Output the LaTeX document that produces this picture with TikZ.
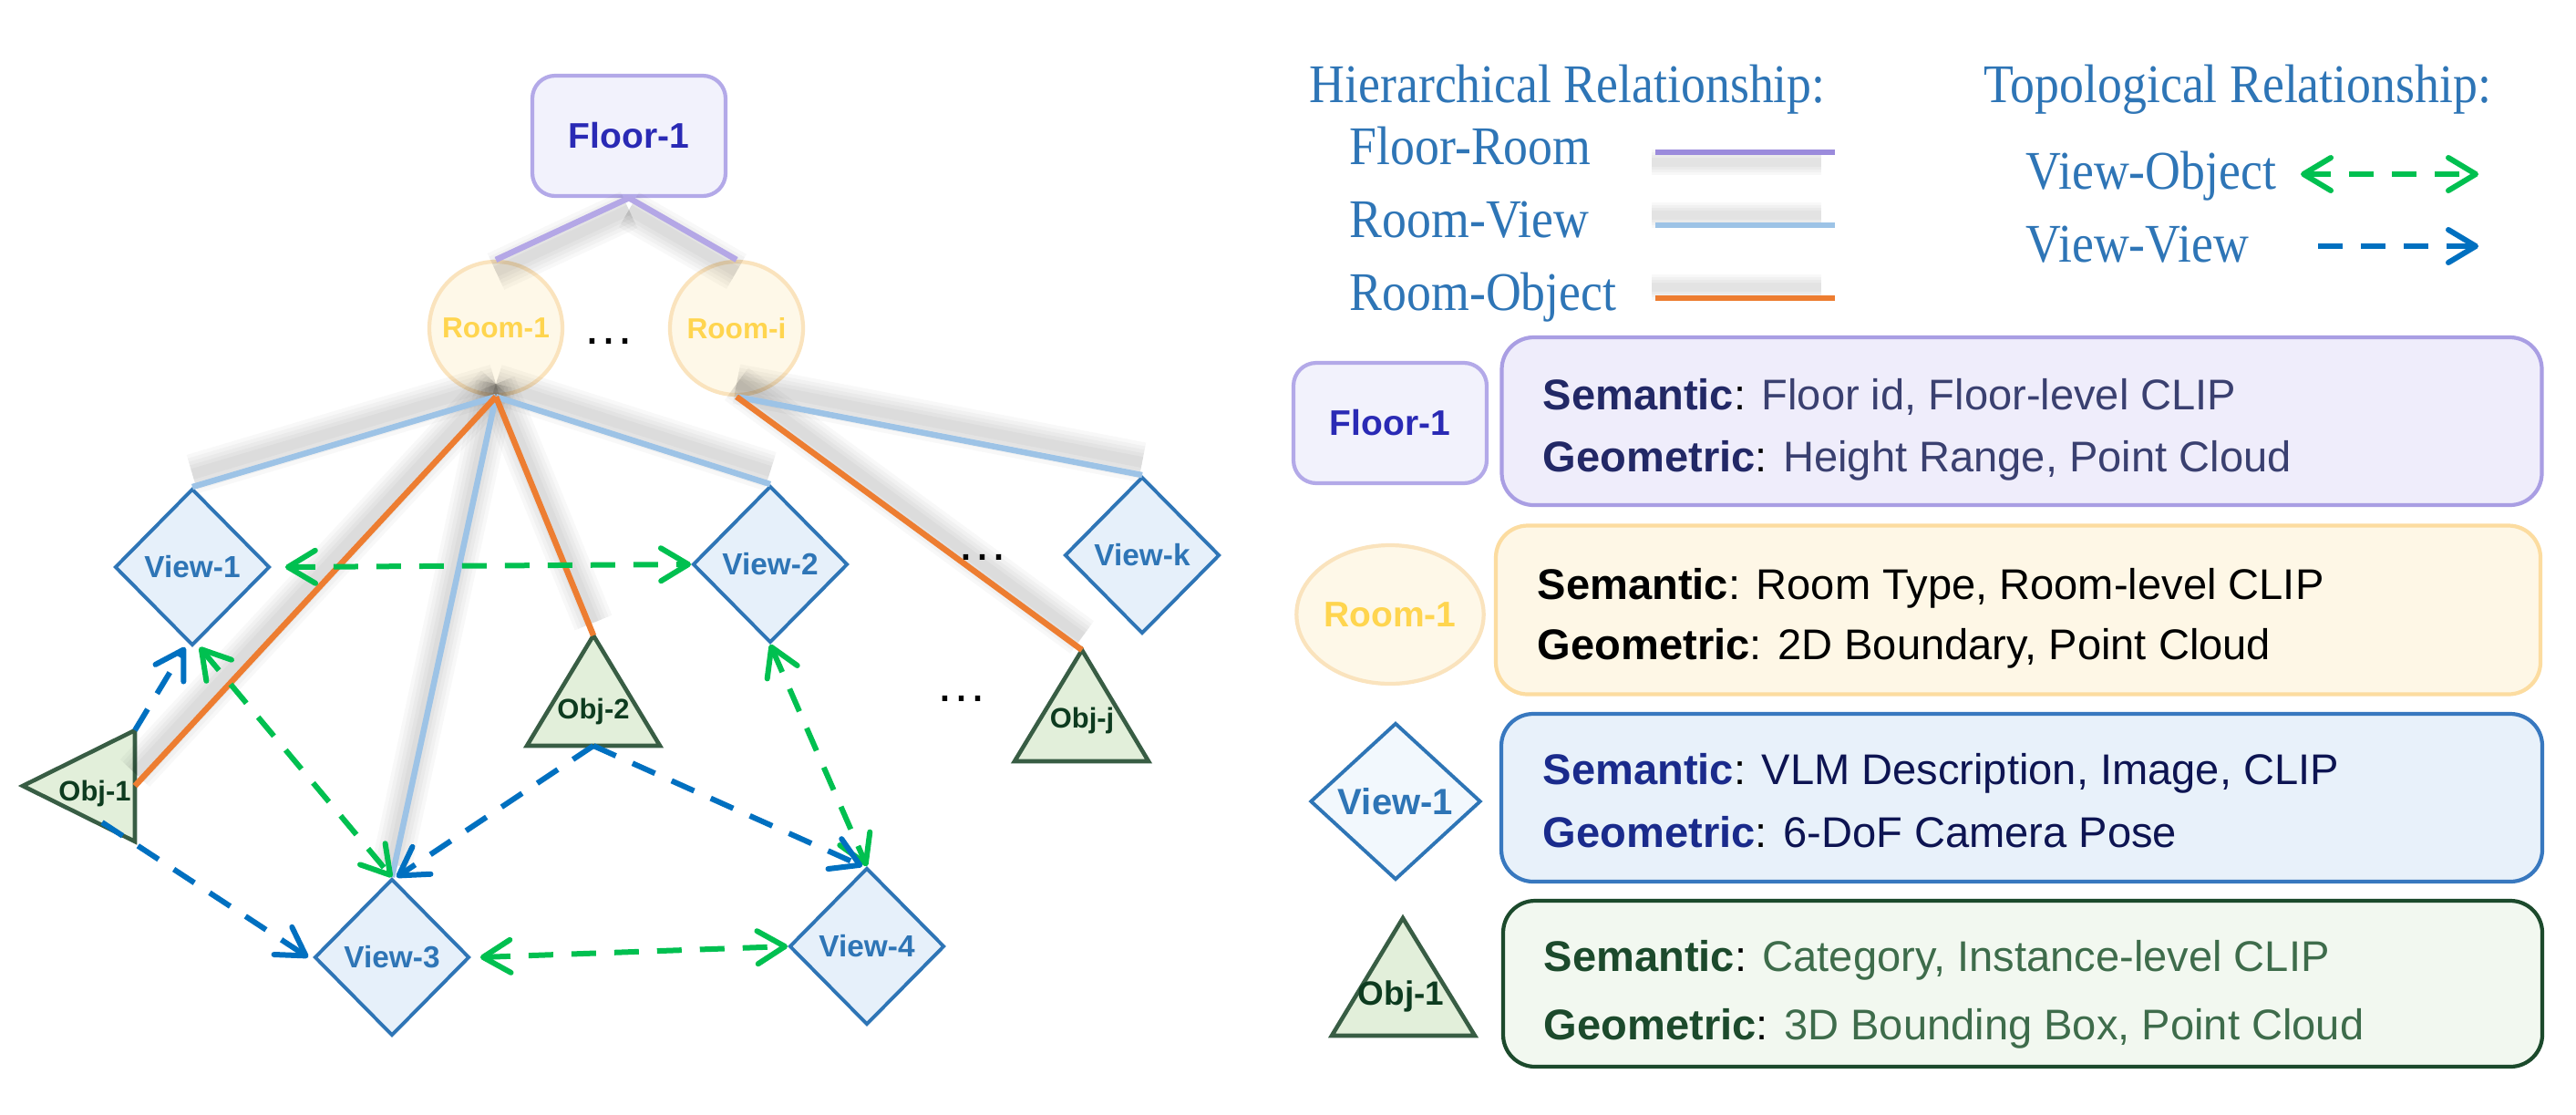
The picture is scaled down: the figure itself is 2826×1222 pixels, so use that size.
\documentclass[tikz,border=0pt]{standalone}
\usepackage{fontspec}
\setmainfont{Liberation Sans}
\newfontfamily\legserif[FakeStretch=0.9]{Liberation Serif}
\usetikzlibrary{arrows.meta,shapes.geometric}
\definecolor{floorbd}{HTML}{B3A9E8}
\definecolor{floorfill}{HTML}{F2F2FC}
\definecolor{floortxt}{HTML}{2A2AB5}
\definecolor{roombd}{HTML}{FAE3BD}
\definecolor{roomfill}{HTML}{FEF8E8}
\definecolor{roomtxt}{HTML}{FFD54F}
\definecolor{viewbd}{HTML}{2E75B6}
\definecolor{viewfill}{HTML}{E6F0FA}
\definecolor{viewfillL}{HTML}{F2F8FD}
\definecolor{objbd}{HTML}{385D44}
\definecolor{objfill}{HTML}{E2EFDA}
\definecolor{objtxt}{HTML}{0D3B1F}
\definecolor{lav}{HTML}{B4A7E6}
\definecolor{lavleg}{HTML}{9B8BDC}
\definecolor{lblue}{HTML}{9DC3E6}
\definecolor{orng}{HTML}{ED7D31}
\definecolor{vgreen}{HTML}{00C050}
\definecolor{vblue}{HTML}{0070C0}
\definecolor{legtxt}{HTML}{2E75B6}
\definecolor{fibd}{HTML}{A99EE3}
\definecolor{fifill}{HTML}{EFEDFB}
\definecolor{fibold}{HTML}{222866}
\definecolor{fireg}{HTML}{3A4070}
\definecolor{ribd}{HTML}{FCDCA0}
\definecolor{rifill}{HTML}{FEF7E6}
\definecolor{vibd}{HTML}{3878BF}
\definecolor{vifill}{HTML}{E8F1FA}
\definecolor{vibold}{HTML}{1A2B8C}
\definecolor{vireg}{HTML}{0D1452}
\definecolor{oibd}{HTML}{1C4A2C}
\definecolor{oifill}{HTML}{F2F8F0}
\definecolor{oibold}{HTML}{1C4A2C}
\definecolor{oireg}{HTML}{3E6C4B}
\tikzset{
  bb/.tip={Straight Barb[length=3mm,width=3.6mm,round]},
  floorbox/.style={draw=floorbd, fill=floorfill, line width=1.2pt, rounded corners=2.5mm,
    minimum width=21.2mm, minimum height=13.2mm, inner sep=0pt,
    font=\bfseries\fontsize{11.1}{13}\selectfont, text=floortxt},
  roomcirc/.style={circle, draw=roombd, fill=roomfill, line width=1.2pt, minimum size=14.6mm,
    inner sep=0pt, font=\bfseries\fontsize{9}{10}\selectfont, text=roomtxt},
  viewdia/.style={diamond, draw=viewbd, fill=viewfill, line width=1.1pt, minimum width=17mm,
    minimum height=17.2mm, inner sep=0pt, font=\bfseries\fontsize{9.5}{11}\selectfont, text=viewbd},
  objtri/.style={draw=objbd, fill=objfill, line width=1.3pt, line join=miter},
  objtext/.style={inner sep=0pt, font=\bfseries\fontsize{8.8}{10}\selectfont, text=objtxt},
  dotsnode/.style={inner sep=0pt, anchor=base, font=\fontsize{16.2}{18}\selectfont},
  hier/.style={line width=0.65mm},
  shd/.style={draw=black, opacity=0.028, line cap=butt},
  gdash/.style={draw=vgreen, line width=0.6mm, dash pattern=on 2.7mm off 2mm},
  bdash/.style={draw=vblue, line width=0.6mm, dash pattern=on 2.7mm off 2mm},
  legtext/.style={inner sep=0pt, anchor=base west, text=legtxt, font=\legserif\fontsize{17}{20}\selectfont},
  legline/.style={line width=0.65mm},
  infobox/.style={rounded corners=3.5mm, line width=1.2pt, inner sep=0pt},
  infotxt/.style={inner sep=0pt, anchor=base west, font=\fontsize{13.4}{16}\selectfont}
}
\begin{document}
\begin{tikzpicture}[x=0.1mm,y=-0.1mm]
\fill[white] (0,0) rectangle (2826,1222);
\useasboundingbox (0,0) rectangle (2826,1222);

% ---------------- graph nodes ----------------
\node[floorbox] (floor) at (690,149) {Floor-1};
\node[roomcirc] (room1) at (544,360) {Room-1};
\node[roomcirc] (roomi) at (808,360) {Room-i};
\node[dotsnode] (dots1) at (668,377) {…};
\node[dotsnode] (dots2) at (1078,614) {…};
\node[dotsnode] (dots3) at (1055,769) {…};

\node[viewdia] (view1) at (211,622) {View-1};
\node[viewdia] (view2) at (845,619) {View-2};
\node[viewdia] (viewk) at (1253,609) {View-k};
\node[viewdia] (view3) at (430,1050) {View-3};
\node[viewdia] (view4) at (951,1038) {View-4};

\draw[objtri] (25,862) -- (148,801) -- (148,923) -- cycle;
\node[objtext] (obj1) at (104,870) {Obj-1};
\draw[objtri] (651,697) -- (578,818) -- (724,818) -- cycle;
\node[objtext] (obj2) at (651,780) {Obj-2};
\draw[objtri] (1187,713) -- (1113,835) -- (1260,835) -- cycle;
\node[objtext] (objj) at (1187,790) {Obj-j};

\coordinate (o1top) at (148,801);
\coordinate (o1right) at (148,862);
\coordinate (o1low) at (112,902);
\coordinate (o2top) at (651,697);
\coordinate (o2base) at (651,818);
\coordinate (ojtop) at (1187,713);

% ---------------- soft shadows ----------------
\foreach \p/\q in {floor.south/room1.north, floor.south/roomi.north}{
  \foreach \w in {4.4,3.6,2.8,2.0,1.2}{
    \draw[shd, line width=\w mm, transform canvas={yshift=-1.3mm}] (\p) -- (\q);
  }
}
\foreach \p/\q in {room1.south/view1.north, room1.south/o1right, room1.south/view3.north,
                   room1.south/o2top, room1.south/view2.north, roomi.south/ojtop, roomi.south/viewk.north}{
  \foreach \w in {4.4,3.6,2.8,2.0,1.2}{
    \draw[shd, line width=\w mm, transform canvas={yshift=1.4mm}] (\p) -- (\q);
  }
}

% ---------------- hierarchical edges ----------------
\draw[hier, lav] (floor.south) -- (room1.north);
\draw[hier, lav] (floor.south) -- (roomi.north);
\draw[hier, lblue] (room1.south) -- (view1.north);
\draw[hier, lblue] (room1.south) -- (view3.north);
\draw[hier, lblue] (room1.south) -- (view2.north);
\draw[hier, orng] (room1.south) -- (o1right);
\draw[hier, orng] (room1.south) -- (o2top);
\draw[hier, lblue] (roomi.south) -- (viewk.north);
\draw[hier, orng] (roomi.south) -- (ojtop);

% ---------------- topological edges ----------------
\draw[gdash, bb-bb] ([xshift=1.5mm]view1.east) -- (view2.west);
\draw[gdash, bb-bb] ([xshift=0.8mm]view1.south) -- (view3.north);
\draw[gdash, bb-bb] (view2.south) -- (view4.north);
\draw[gdash, bb-bb] ([xshift=1mm]view3.east) -- (view4.west);
\draw[bdash, -bb] (o1top) -- ([xshift=-0.8mm]view1.south);
\draw[bdash, -bb] (o1low) -- ([xshift=-0.5mm]view3.west);
\draw[bdash, -bb] (o2base) -- ([xshift=0.5mm]view3.north);
\draw[bdash, -bb] (o2base) -- ([xshift=-0.5mm]view4.north);

% ---------------- legend: relationships ----------------
\node[legtext] (hiert) at (1436,112) {Hierarchical Relationship:};
\node[legtext] (topot) at (2176,112) {Topological Relationship:};
\node[legtext] (lfr) at (1480,180) {Floor-Room};
\node[legtext] (lrv) at (1480,260) {Room-View};
\node[legtext] (lro) at (1480,340) {Room-Object};
\node[legtext] (lvo) at (2222,207) {View-Object};
\node[legtext] (lvv) at (2222,287) {View-View};

\coordinate (lfrA) at (1816,167); \coordinate (lfrB) at (2013,167);
\coordinate (lrvA) at (1816,247); \coordinate (lrvB) at (2013,247);
\coordinate (lroA) at (1816,327); \coordinate (lroB) at (2013,327);
\foreach \yy in {178,236,315}{
  \foreach \w in {2.8,2.2,1.6,1.0}{
    \draw[shd, line width=\w mm] (1812,\yy) -- (1998,\yy);
  }
}
\draw[legline, lavleg] (lfrA) -- (lfrB);
\draw[legline, lblue] (lrvA) -- (lrvB);
\draw[legline, orng] (lroA) -- (lroB);

\coordinate (lvoA) at (2524,191); \coordinate (lvoB) at (2719,191);
\coordinate (lvvA) at (2543,270); \coordinate (lvvB) at (2719,270);
\draw[gdash, bb-bb] (lvoA) -- (lvoB);
\draw[bdash, -bb] (lvvA) -- (lvvB);

% ---------------- legend: node types ----------------
\node[floorbox] (lfloor) at (1525,464) {Floor-1};
\node[infobox, draw=fibd, fill=fifill, minimum width=114.1mm, minimum height=18.4mm] (finfo) at (2218,462) {};
\node[infotxt] (fsem) at (1692,449) {\textcolor{fibold}{\bfseries Semantic}: \textcolor{fireg}{Floor id, Floor-level CLIP}};
\node[infotxt] (fgeo) at (1692,517) {\textcolor{fibold}{\bfseries Geometric}: \textcolor{fireg}{Height Range, Point Cloud}};

\node[ellipse, draw=roombd, fill=roomfill, line width=1.2pt, minimum width=17mm, minimum height=15.2mm,
      inner sep=0pt, font=\bfseries\fontsize{11.1}{13}\selectfont, text=roomtxt] (lroom) at (1525,674) {Room-1};
\node[infobox, draw=ribd, fill=rifill, minimum width=114.6mm, minimum height=18.5mm] (rinfo) at (2214,669) {};
\node[infotxt] (rsem) at (1686,657) {{\bfseries Semantic}: Room Type, Room-level CLIP};
\node[infotxt] (rgeo) at (1686,723) {{\bfseries Geometric}: 2D Boundary, Point Cloud};

\node[viewdia, fill=viewfillL, minimum width=18.7mm, minimum height=17.2mm,
      font=\bfseries\fontsize{11.4}{13}\selectfont] (lview) at (1531,879) {View-1};
\node[infobox, draw=vibd, fill=vifill, minimum width=114.2mm, minimum height=18.4mm] (vinfo) at (2218,875) {};
\node[infotxt] (vsem) at (1692,860) {\textcolor{vibold}{\bfseries Semantic}: \textcolor{vireg}{VLM Description, Image, CLIP}};
\node[infotxt] (vgeo) at (1692,929) {\textcolor{vibold}{\bfseries Geometric}: \textcolor{vireg}{6-DoF Camera Pose}};

\draw[objtri] (1539,1007) -- (1461,1136) -- (1618,1136) -- cycle;
\node[objtext, font=\bfseries\fontsize{10.5}{12}\selectfont] (lobj) at (1537,1093) {Obj-1};
\node[infobox, draw=oibd, fill=oifill, minimum width=114mm, minimum height=18.2mm] (oinfo) at (2219,1079) {};
\node[infotxt] (osem) at (1693,1065) {\textcolor{oibold}{\bfseries Semantic}: \textcolor{oireg}{Category, Instance-level CLIP}};
\node[infotxt] (ogeo) at (1693,1140) {\textcolor{oibold}{\bfseries Geometric}: \textcolor{oireg}{3D Bounding Box, Point Cloud}};
\end{tikzpicture}
\end{document}
